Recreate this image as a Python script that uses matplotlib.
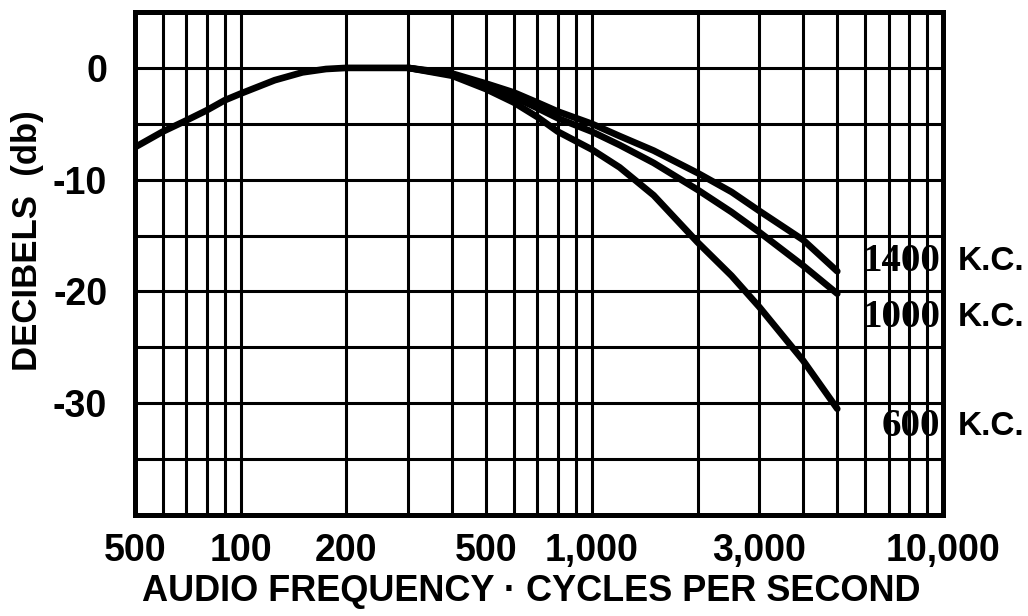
import matplotlib
matplotlib.use("Agg")
import matplotlib.pyplot as plt
from matplotlib.ticker import FixedLocator, NullFormatter, FixedFormatter
import matplotlib.transforms as mtransforms

# ---- data ----
freq_common = [50, 60, 70, 80, 90, 100, 125, 150, 175, 200, 300]
db_common = [-7.1, -5.7, -4.7, -3.8, -2.9, -2.3, -1.1, -0.4, -0.1, 0.0, 0.0]

freq_hi = [300, 400, 500, 600, 700, 800, 1000, 1200, 1500, 2000, 2500, 3000, 4000, 5000]
db_1400 = [0.0, -0.5, -1.4, -2.2, -3.1, -3.9, -5.0, -6.1, -7.4, -9.4, -11.1, -12.8, -15.4, -18.2]
db_1000 = [0.0, -0.6, -1.6, -2.6, -3.6, -4.5, -5.7, -6.9, -8.5, -10.9, -12.9, -14.7, -17.7, -20.2]
db_600 = [0.0, -0.7, -1.9, -3.1, -4.4, -5.7, -7.3, -8.9, -11.4, -15.6, -18.6, -21.4, -26.2, -30.5]

curve_labels = ["1400", "1000", "600"]
curve_label_db = [-17.3, -22.3, -32.1]

x_tick_values = [50, 100, 200, 500, 1000, 3000, 10000]
x_tick_labels = ["500", "100", "200", "500", "1,000", "3,000", "10,000"]
y_tick_values = [0, -10, -20, -30]
y_tick_labels = ["0", "-10", "-20", "-30"]
x_grid_values = [50, 60, 70, 80, 90, 100, 200, 300, 400, 500, 600, 700, 800, 900,
                 1000, 2000, 3000, 4000, 5000, 6000, 7000, 8000, 9000, 10000]
y_grid_values = [5, 0, -5, -10, -15, -20, -25, -30, -35, -40]

# ---- figure ----
fig = plt.figure(figsize=(10.28, 6.16), dpi=100)
ax = fig.add_axes([0.1313, 0.164, 0.7860, 0.8165])
ax.set_xscale("log")
ax.set_xlim(50, 10000)
ax.set_ylim(-40, 5)

for xv in x_grid_values:
    ax.axvline(xv, color="black", lw=2.2, zorder=1)
for yv in y_grid_values:
    ax.axhline(yv, color="black", lw=2.2, zorder=1)

line_kw = dict(color="black", lw=4.8, solid_capstyle="round", solid_joinstyle="round", zorder=3)
ax.plot(freq_common, db_common, **line_kw)
for d in (db_1400, db_1000, db_600):
    ax.plot(freq_hi, d, **line_kw)

for s in ax.spines.values():
    s.set_linewidth(3.6)
    s.set_color("black")

ax.xaxis.set_major_locator(FixedLocator(x_tick_values))
ax.xaxis.set_major_formatter(FixedFormatter(x_tick_labels))
ax.xaxis.set_minor_locator(FixedLocator([]))
ax.xaxis.set_minor_formatter(NullFormatter())
ax.yaxis.set_major_locator(FixedLocator(y_tick_values))
ax.yaxis.set_major_formatter(FixedFormatter(y_tick_labels))
ax.tick_params(axis="both", length=0)
ax.tick_params(axis="x", pad=13)
ax.tick_params(axis="y", pad=20)

for lab in ax.get_xticklabels() + ax.get_yticklabels():
    lab.set_fontfamily("Liberation Sans")
    lab.set_fontweight("bold")
    lab.set_fontsize(27)

ax.set_xlabel("AUDIO FREQUENCY · CYCLES PER SECOND", family="Liberation Sans",
              weight="bold", size=26)
ax.xaxis.set_label_coords(0.49, -0.118)
ax.xaxis.label.set_va("top")
ax.set_ylabel("DECIBELS  (db)", family="Liberation Sans", weight="bold", size=25)
ax.yaxis.set_label_coords(-0.112, 0.545)

trans = mtransforms.blended_transform_factory(ax.transAxes, ax.transData)
for lab, yv in zip(curve_labels, curve_label_db):
    ax.text(0.997, yv, lab, transform=trans, ha="right", va="center",
            family="Liberation Serif", weight="bold", size=28, color="black", zorder=4)
    ax.text(1.018, yv, "K.C.", transform=trans, ha="left", va="center",
            family="Liberation Sans", weight="bold", size=24, color="black",
            clip_on=False)

fig.savefig("out.png", dpi=100, facecolor="white")
